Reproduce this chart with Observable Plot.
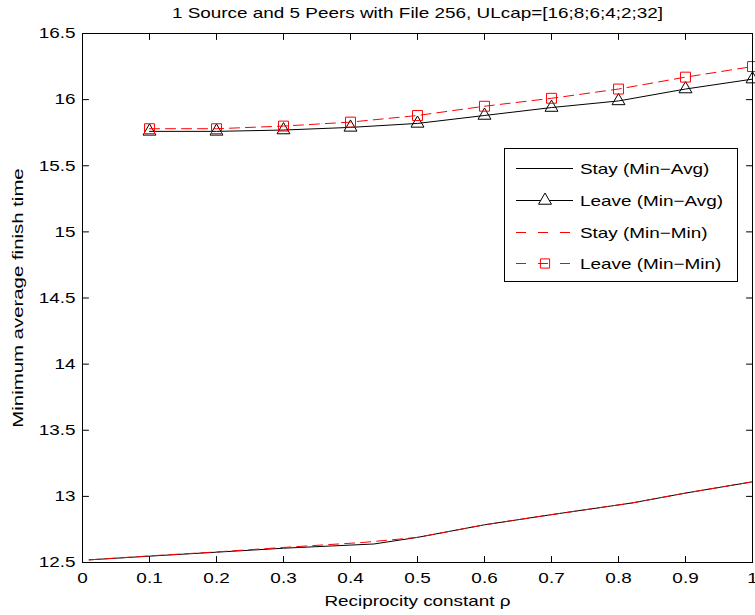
<!DOCTYPE html>
<html>
<head>
<meta charset="utf-8">
<script src="https://cdn.jsdelivr.net/npm/d3@7"></script>
<script src="https://cdn.jsdelivr.net/npm/@observablehq/plot@0.6"></script>
<style>
  html, body { margin: 0; padding: 0; background: #fff; }
  #chart { width: 755px; height: 615px; }
</style>
</head>
<body>
<div id="chart"></div>
<script>
const title = "1 Source and 5 Peers with File 256, ULcap=[16;8;6;4;2;32]";
const xLabel = "Reciprocity constant ρ";
const yLabel = "Minimum average finish time";
const xTicks = [0, 0.1, 0.2, 0.3, 0.4, 0.5, 0.6, 0.7, 0.8, 0.9, 1];
const yTicks = [12.5, 13, 13.5, 14, 14.5, 15, 15.5, 16, 16.5];
const legendLabels = ["Stay (Min\u2212Avg)", "Leave (Min\u2212Avg)", "Stay (Min\u2212Min)", "Leave (Min\u2212Min)"];

// Leave series (markers)
const leaveRho = [0.1, 0.2, 0.3, 0.4, 0.5, 0.6, 0.7, 0.8, 0.9, 1.0];
const leaveMinAvg = [15.76, 15.76, 15.77, 15.79, 15.82, 15.88, 15.94, 15.99, 16.08, 16.155];
const leaveMinMin = [15.78, 15.78, 15.80, 15.83, 15.88, 15.95, 16.01, 16.08, 16.17, 16.25];

// Stay series (no markers)
const stayAvgRho = [0.01, 0.1, 0.2, 0.3, 0.435, 0.5, 0.6, 0.7, 0.82, 0.9, 1.0];
const stayMinAvg = [12.52, 12.548, 12.578, 12.608, 12.64, 12.69, 12.785, 12.862, 12.95, 13.025, 13.11];
const stayMinRho = [0.01, 0.1, 0.2, 0.3, 0.42, 0.5, 0.6, 0.7, 0.82, 0.9, 1.0];
const stayMinMin = [12.52, 12.55, 12.58, 12.614, 12.652, 12.69, 12.785, 12.862, 12.95, 13.025, 13.11];

const toRows = (xs, ys) => xs.map((x, i) => ({x, y: ys[i]}));
const stayAvgRows = toRows(stayAvgRho, stayMinAvg);
const leaveAvgRows = toRows(leaveRho, leaveMinAvg);
const stayMinRows = toRows(stayMinRho, stayMinMin);
const leaveMinRows = toRows(leaveRho, leaveMinMin);

const RED = "#ff0000";
const DASH = "10,6";
const FONT = "'Liberation Sans', Arial, Helvetica, sans-serif";
const tickShape = {draw(ctx, l) { ctx.moveTo(0, 0); ctx.lineTo(0, -l); }};
const tickOpts = {length: 6, anchor: "start", shape: tickShape, stroke: "black", strokeWidth: 1};

const chart = Plot.plot({
  width: 755,
  height: 615,
  marginLeft: 82,
  marginRight: 3,
  marginTop: 33,
  marginBottom: 53,
  style: {fontFamily: FONT, fontSize: "15px", color: "black", background: "white"},
  x: {domain: [0, 1]},
  y: {domain: [12.5, 16.5]},
  marks: [
    Plot.axisX(xTicks, {tickSize: 0, tickPadding: 10, tickFormat: d => String(d), label: null, fill: "black"}),
    Plot.axisY(yTicks, {tickSize: 0, tickPadding: 7, tickFormat: d => String(d), label: null, fill: "black"}),
    Plot.vector(xTicks, {...tickOpts, x: d => d, frameAnchor: "bottom", rotate: 0}),
    Plot.vector(xTicks, {...tickOpts, x: d => d, frameAnchor: "top", rotate: 180}),
    Plot.vector(yTicks, {...tickOpts, y: d => d, frameAnchor: "left", rotate: 90}),
    Plot.vector(yTicks, {...tickOpts, y: d => d, frameAnchor: "right", rotate: -90}),
    Plot.line(stayAvgRows, {x: "x", y: "y", stroke: "black", strokeWidth: 1}),
    Plot.line(leaveAvgRows, {x: "x", y: "y", stroke: "black", strokeWidth: 1}),
    Plot.dot(leaveAvgRows, {x: "x", y: "y", symbol: "triangle", r: 4.8, stroke: "black", fill: "none", strokeWidth: 1}),
    Plot.line(stayMinRows, {x: "x", y: "y", stroke: RED, strokeWidth: 1, strokeDasharray: DASH}),
    Plot.line(leaveMinRows, {x: "x", y: "y", stroke: RED, strokeWidth: 1, strokeDasharray: DASH}),
    Plot.dot(leaveMinRows, {x: "x", y: "y", symbol: "square", r: 5.6, stroke: RED, fill: "none", strokeWidth: 1}),
    Plot.frame({stroke: "black", strokeWidth: 1}),
    Plot.text([title], {text: d => d, frameAnchor: "top", dy: -20, textAnchor: "middle", lineAnchor: "middle", fill: "black", fontSize: 15}),
    Plot.text([xLabel], {text: d => d, frameAnchor: "bottom", dy: 39, textAnchor: "middle", lineAnchor: "middle", fill: "black", fontSize: 15}),
    Plot.text([yLabel], {text: d => d, frameAnchor: "left", dx: -64, rotate: -90, textAnchor: "middle", lineAnchor: "middle", fill: "black", fontSize: 15})
  ]
});

document.getElementById("chart").appendChild(chart);

// Legend drawn inside the axes box
const svg = d3.select(chart);
const lg = svg.append("g").attr("class", "legend").attr("text-anchor", "start");
const box = {x: 504, y: 148, w: 233, h: 133};
lg.append("rect").attr("x", box.x + 0.5).attr("y", box.y + 0.5).attr("width", box.w).attr("height", box.h)
  .attr("fill", "white").attr("stroke", "black").attr("stroke-width", 1);
const rowY = [168, 200, 232, 263];
const sx1 = 516, sx2 = 573, smid = 545, tx = 580;
legendLabels.forEach((lab, i) => {
  const y = rowY[i] + 0.5;
  const red = i >= 2;
  lg.append("line").attr("x1", sx1).attr("x2", sx2).attr("y1", y).attr("y2", y)
    .attr("stroke", red ? RED : "black").attr("stroke-width", 1)
    .attr("stroke-dasharray", red ? "10,12" : null);
  if (i === 1) {
    lg.append("path").attr("d", d3.symbol(d3.symbolTriangle, 4.8 * 4.8 * Math.PI)())
      .attr("transform", `translate(${smid},${y})`).attr("fill", "white").attr("stroke", "black");
  }
  if (i === 3) {
    lg.append("path").attr("d", d3.symbol(d3.symbolSquare, 5.2 * 5.2 * Math.PI)())
      .attr("transform", `translate(${smid},${y})`).attr("fill", "none").attr("stroke", RED);
  }
  lg.append("text").attr("x", tx).attr("y", y).attr("dy", "0.36em").attr("text-anchor", "start")
    .attr("font-family", FONT).attr("font-size", 15).attr("fill", "black").text(lab);
});

// Horizontal stretch of text to match the reference's wide glyphs
const SX = 1.26;
chart.querySelectorAll("text").forEach(t => {
  if (t.textContent === yLabel) {
    const tr = t.getAttribute("transform") || "";
    t.setAttribute("transform", tr + " scale(1.36,1)");
    return;
  }
  const L = t.getComputedTextLength();
  if (L > 0) {
    t.setAttribute("textLength", (L * SX).toFixed(1));
    t.setAttribute("lengthAdjust", "spacingAndGlyphs");
  }
});
</script>
</body>
</html>
